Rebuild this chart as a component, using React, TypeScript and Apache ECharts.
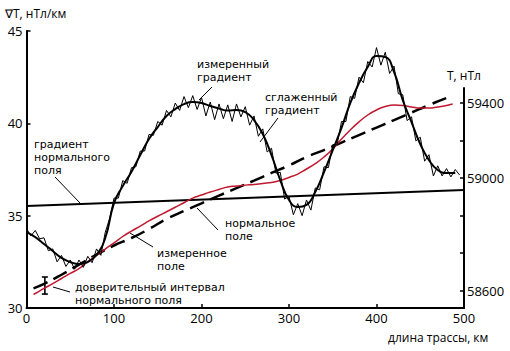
import React, { useEffect, useRef } from "react";
import * as echarts from "echarts";

// ---- data ----
const smoothKm = [0, 10, 20, 30, 40, 50, 60, 70, 80, 90, 100, 110, 120, 130, 140, 150, 160, 170, 180, 190, 200, 210, 220, 230, 240, 250, 260, 270, 280, 290, 300, 310, 320, 330, 340, 350, 360, 370, 380, 390, 400, 410, 420, 430, 440, 450, 460, 470, 480, 490];
const smoothedGradient = [34.11, 33.84, 33.47, 33.09, 32.71, 32.49, 32.38, 32.49, 32.87, 33.79, 35.68, 36.6, 37.38, 38.28, 39.15, 39.8, 40.4, 40.77, 41.04, 41.15, 41.1, 40.94, 40.8, 40.69, 40.72, 40.61, 40.18, 39.42, 38.28, 36.93, 35.85, 35.47, 35.58, 36.28, 37.36, 38.55, 39.75, 41.1, 42.18, 43.05, 43.64, 43.59, 42.78, 41.26, 40.07, 38.88, 38.01, 37.47, 37.31, 37.31];

const measuredKm = [0, 5, 10, 15, 20, 25, 30, 35, 40, 45, 50, 55, 60, 65, 70, 75, 80, 85, 90, 95, 100, 105, 110, 115, 120, 125, 130, 135, 140, 145, 150, 155, 160, 165, 170, 175, 180, 185, 190, 195, 200, 205, 210, 215, 220, 225, 230, 235, 240, 245, 250, 255, 260, 265, 270, 275, 280, 285, 290, 295, 300, 305, 310, 315, 320, 325, 330, 335, 340, 345, 350, 355, 360, 365, 370, 375, 380, 385, 390, 395, 400, 405, 410, 415, 420, 425, 430, 435, 440, 445, 450, 455, 460, 465, 470, 475, 480, 485, 490, 495];
const measuredGradient = [34.3, 33.9, 34.2, 33.75, 33.8, 33.1, 33.2, 32.5, 32.85, 32.25, 32.6, 32.1, 32.6, 32.2, 32.8, 32.45, 33.2, 32.85, 34.1, 34.85, 35.95, 35.95, 36.9, 36.75, 37.6, 37.65, 38.5, 38.5, 39.4, 39.35, 40.1, 39.9, 40.7, 40.35, 41.1, 40.7, 41.45, 40.85, 41.5, 40.75, 41.4, 40.4, 41.15, 40.2, 41.05, 40.25, 41.0, 40.1, 41.05, 40.35, 40.9, 39.9, 40.4, 39.3, 39.7, 38.45, 38.65, 37.3, 37.35, 35.9, 36.05, 35.05, 35.65, 35.0, 35.85, 35.3, 36.5, 36.4, 37.65, 37.6, 38.85, 38.85, 40.1, 40.1, 41.45, 41.35, 42.5, 42.2, 43.35, 43.05, 44.1, 43.15, 43.85, 42.7, 43.1, 41.6, 41.55, 40.15, 40.35, 39.05, 39.25, 37.95, 38.3, 37.15, 37.7, 37.15, 37.55, 37.1, 37.5, 37.2];

const normalGradientKm = [0, 500];
const normalGradient = [35.52, 36.39];

const measuredFieldKm = [8, 10, 20, 30, 40, 50, 60, 70, 80, 90, 100, 110, 120, 130, 140, 150, 160, 170, 180, 190, 200, 210, 220, 230, 240, 250, 260, 270, 280, 290, 300, 310, 320, 330, 340, 350, 360, 370, 380, 390, 400, 410, 420, 430, 440, 450, 460, 470, 480, 487];
const measuredField = [58379, 58384, 58411, 58437, 58464, 58491, 58517, 58554, 58587, 58621, 58654, 58688, 58717, 58743, 58771, 58796, 58820, 58844, 58868, 58893, 58909, 58925, 58939, 58952, 58957, 58962, 58965, 58971, 58976, 58987, 59003, 59021, 59048, 59077, 59112, 59155, 59208, 59256, 59299, 59336, 59363, 59381, 59389, 59387, 59379, 59373, 59373, 59379, 59387, 59395];

const normalFieldKm = [8, 20, 40, 60, 80, 100, 120, 140, 160, 180, 200, 220, 240, 260, 280, 300, 320, 340, 360, 380, 400, 420, 440, 460, 480, 487];
const normalField = [58411, 58435, 58484, 58538, 58591, 58640, 58680, 58728, 58781, 58824, 58865, 58906, 58946, 58986, 59027, 59067, 59112, 59149, 59189, 59229, 59269, 59309, 59349, 59389, 59427, 59437];

const confidenceKm = [21];
const confidenceLow = [58381];
const confidenceHigh = [58472];

const leftTicks = [30, 35, 40, 45];
const xTicks = [0, 100, 200, 300, 400, 500];
const rightTickValues = [58400, 58600, 58800, 59000, 59200, 59400];
const rightTickLabels = ["58600", "", "", "59000", "", "59400"];

const FONT = '"Open Sans", "Noto Sans", sans-serif';
const NOTE_FONT = '11px "DejaVu Sans", sans-serif';

const zip = (xs: number[], ys: number[]) => xs.map((x, i) => [x, ys[i]]);

export default function App() {
  const ref = useRef<HTMLDivElement>(null);
  useEffect(() => {
    if (!ref.current) return;
    const chart = echarts.init(ref.current, null, { renderer: "svg" });
    const txt = (x: number, y: number, text: string, font = `12px ${FONT}`) => ({
      type: "text",
      x,
      y,
      style: { text, fill: "#000", font, align: "left", verticalAlign: "middle", textAlign: "left", textVerticalAlign: "middle" },
    });
    const block = (x: number, yFirst: number, lines: string[], lh: number) =>
      lines.map((l, i) => txt(x, yFirst + i * lh, l, NOTE_FONT));
    const ln = (x1: number, y1: number, x2: number, y2: number) => ({
      type: "line",
      shape: { x1, y1, x2, y2 },
      style: { stroke: "#000", lineWidth: 1 },
    });
    chart.setOption({
      animation: false,
      backgroundColor: "#fff",
      grid: [
        { left: 26.5, right: 46, top: 31, bottom: 43 },
        { left: 26.5, right: 46, top: 88, bottom: 43 },
      ],
      xAxis: [
        {
          type: "value",
          gridIndex: 0,
          min: 0,
          max: 500,
          interval: 100,
          splitLine: { show: false },
          axisLine: { onZero: false, lineStyle: { color: "#000", width: 2 } },
          axisTick: { inside: true, length: 4, lineStyle: { color: "#000", width: 1.5 }, customValues: xTicks },
          axisLabel: { color: "#000", fontSize: 13, fontFamily: FONT, margin: 3, customValues: xTicks },
        },
        { type: "value", gridIndex: 1, min: 0, max: 500, show: false },
      ],
      yAxis: [
        {
          type: "value",
          gridIndex: 0,
          min: 30,
          max: 45,
          interval: 5,
          splitLine: { show: false },
          axisLine: { show: true, onZero: false, lineStyle: { color: "#000", width: 2 } },
          axisTick: { show: true, inside: true, length: 4, lineStyle: { color: "#000", width: 1.5 }, customValues: leftTicks },
          axisLabel: { color: "#000", fontSize: 13, fontFamily: FONT, margin: 4, customValues: leftTicks },
        },
        {
          type: "value",
          gridIndex: 1,
          position: "right",
          min: 58306.67,
          max: 59480,
          splitLine: { show: false },
          axisLine: { show: true, onZero: false, lineStyle: { color: "#000", width: 2 } },
          axisTick: { show: true, inside: true, length: 4, lineStyle: { color: "#000", width: 1.5 }, customValues: rightTickValues },
          axisLabel: {
            color: "#000",
            fontSize: 13,
            fontFamily: FONT,
            margin: 3,
            customValues: rightTickValues,
            formatter: (v: number) => {
              const i = rightTickValues.indexOf(Math.round(v));
              return i >= 0 ? rightTickLabels[i] : "";
            },
          },
        },
      ],
      series: [
        {
          type: "line",
          xAxisIndex: 0,
          yAxisIndex: 0,
          data: zip(normalGradientKm, normalGradient),
          showSymbol: false,
          lineStyle: { color: "#000", width: 2 },
        },
        {
          type: "line",
          xAxisIndex: 1,
          yAxisIndex: 1,
          data: zip(normalFieldKm, normalField),
          showSymbol: false,
          smooth: true,
          lineStyle: { color: "#000", width: 2.5, type: [15, 7] },
        },
        {
          type: "line",
          xAxisIndex: 1,
          yAxisIndex: 1,
          data: zip(measuredFieldKm, measuredField),
          showSymbol: false,
          smooth: true,
          lineStyle: { color: "#c0182e", width: 1.5 },
        },
        {
          type: "line",
          xAxisIndex: 0,
          yAxisIndex: 0,
          data: zip(measuredKm, measuredGradient),
          showSymbol: false,
          lineStyle: { color: "#000", width: 1 },
        },
        {
          type: "line",
          xAxisIndex: 0,
          yAxisIndex: 0,
          data: zip(smoothKm, smoothedGradient),
          showSymbol: false,
          smooth: true,
          lineStyle: { color: "#000", width: 2 },
        },
        {
          type: "custom",
          xAxisIndex: 1,
          yAxisIndex: 1,
          data: confidenceKm.map((k, i) => [k, confidenceLow[i], confidenceHigh[i]]),
          renderItem: (params: any, api: any) => {
            const x = api.value(0);
            const lo = api.coord([x, api.value(1)]);
            const hi = api.coord([x, api.value(2)]);
            const w = 3;
            const st = { stroke: "#000", lineWidth: 1.6 };
            return {
              type: "group",
              children: [
                { type: "line", shape: { x1: lo[0], y1: lo[1], x2: hi[0], y2: hi[1] }, style: st },
                { type: "line", shape: { x1: lo[0] - w, y1: lo[1], x2: lo[0] + w, y2: lo[1] }, style: st },
                { type: "line", shape: { x1: hi[0] - w, y1: hi[1], x2: hi[0] + w, y2: hi[1] }, style: st },
              ],
            };
          },
        },
      ],
      graphic: [
        txt(5, 13, "∇T, нТл/км"),
        txt(447, 75, "T, нТл"),
        txt(388, 337, "длина трассы, км"),
        ...block(197, 64, ["измеренный", "градиент"], 13),
        ...block(265, 97, ["сглаженный", "градиент"], 13),
        ...block(34, 144, ["градиент", "нормального", "поля"], 13),
        ...block(225, 223, ["нормальное", "поле"], 13),
        ...block(157, 253, ["измеренное", "поле"], 13),
        ...block(75, 287, ["доверительный интервал", "нормального поля"], 13),
        ln(212, 87, 199, 100),
        ln(278, 118, 260, 142),
        ln(55, 177, 80, 203),
        ln(218, 230, 197, 208),
        ln(153, 247, 130, 233),
        ln(53, 287, 70, 292),
      ],
    });
    return () => chart.dispose();
  }, []);
  return <div ref={ref} style={{ position: "absolute", left: 0, top: 0, width: 510, height: 351 }} />;
}
